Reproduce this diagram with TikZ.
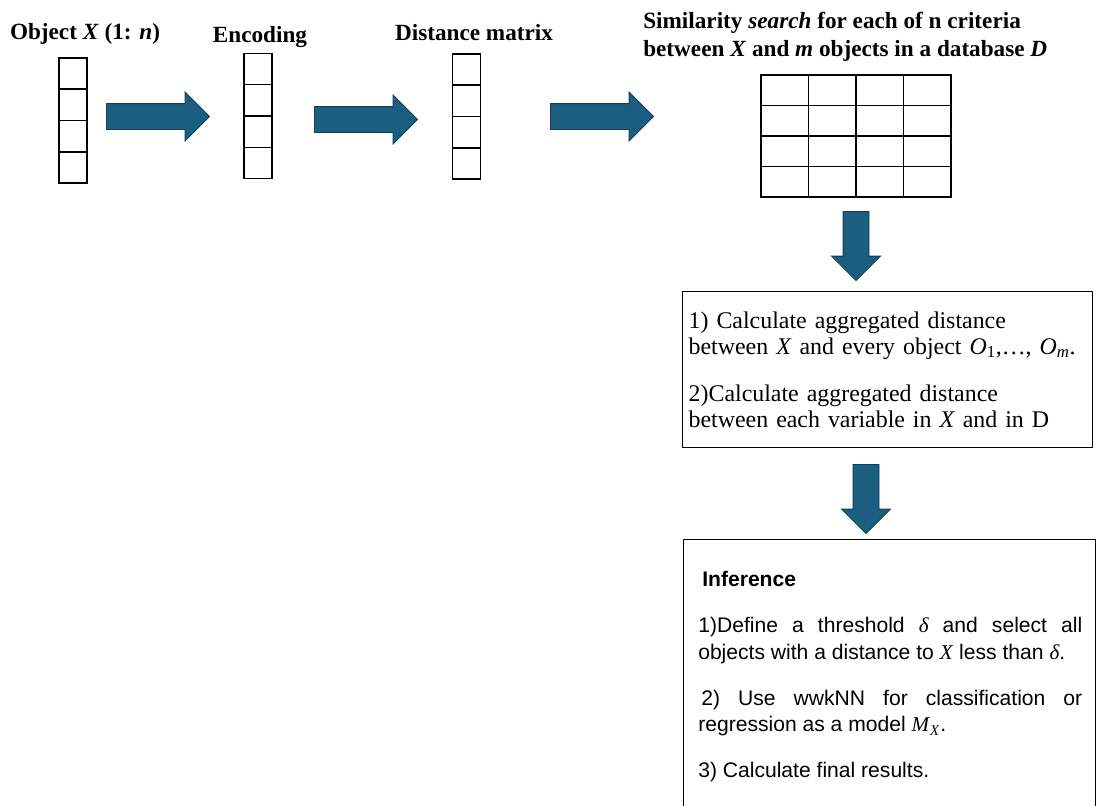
\documentclass[tikz,border=0pt]{standalone}
\usepackage{amsmath,bm}
\usepackage{fontspec}
\setmainfont{Liberation Serif}
\setsansfont{Liberation Sans}
\usetikzlibrary{shapes.arrows,calc,positioning}
\definecolor{arrowfill}{RGB}{27,94,128}
\definecolor{arrowline}{RGB}{18,62,88}
\newdimen\pxl
\pxl=0.025cm
\newcommand{\vx}[1]{\textit{#1}}
\newcommand{\sdelta}{{\rmfamily\itshape δ}}
\tikzset{
  heading/.style={font=\bfseries\fontsize{16.5}{19.8}\selectfont, inner sep=0pt},
  vecbox/.style={draw, line width=0.9pt, minimum width=28\pxl, minimum height=125\pxl, inner sep=0pt},
  fatarrow/.style={single arrow, draw=arrowline, fill=arrowfill, line width=0.7pt,
    inner sep=12.5\pxl, minimum width=48\pxl, single arrow head extend=11.5\pxl,
    single arrow tip angle=90, single arrow head indent=0pt, minimum height=103\pxl, anchor=tail},
  downarrow/.style={fatarrow, shape border rotate=270, minimum height=69\pxl},
  textbox/.style={draw, line width=0.9pt, anchor=north west}
}
\begin{document}
\begin{tikzpicture}[x=\pxl,y=-\pxl]
  \useasboundingbox (0,0) rectangle (1096,805);
  % headings
  \node[heading, anchor=base] (hobj) at (85,39) {Object \vx{X} (1: \vx{n})};
  \node[heading, anchor=base] (henc) at (260,42) {Encoding};
  \node[heading, anchor=base] (hdist) at (474,40) {Distance matrix};
  \node[heading, anchor=north west, align=left] (hsim) at (643,12)
    {Similarity \textit{search} for each of n criteria\\
     between \vx{X} and \vx{m} objects in a database \vx{D}};
  % vectors and grid
  \node[vecbox] (col1) at (73,120.5) {};
  \node[vecbox] (col2) at (258,116) {};
  \node[vecbox] (col3) at (466.5,116.5) {};
  \foreach \c in {col1,col2,col3}
    \foreach \k in {1,2,3}
      \draw[line width=0.9pt] ($(\c.north west)!\k/4!(\c.south west)$) -- ($(\c.north east)!\k/4!(\c.south east)$);
  \node[draw, line width=0.9pt, minimum width=190\pxl, minimum height=122\pxl, inner sep=0pt] (grid) at (856,136) {};
  \foreach \k in {1,2,3} {
    \draw[line width=0.9pt] ($(grid.north west)!\k/4!(grid.south west)$) -- ($(grid.north east)!\k/4!(grid.south east)$);
    \draw[line width=0.9pt] ($(grid.north west)!\k/4!(grid.north east)$) -- ($(grid.south west)!\k/4!(grid.south east)$);
  }
  % arrows
  \node[fatarrow] (a1) at (106,116.5) {};
  \node[fatarrow] (a2) at (314,119.5) {};
  \node[fatarrow] (a3) at (550,116.5) {};
  \node[downarrow] (a4) at (856,211) {};
  \node[downarrow] (a5) at (866,464) {};
  % boxes
  \node[textbox, minimum width=410\pxl, minimum height=156\pxl, text width=398\pxl,
    inner xsep=6\pxl, align=left, font=\fontsize{17}{18.6}\selectfont] (calc) at (682,291)
    {1) Calculate aggregated distance\\
     between \vx{X} and every object \vx{O}\textsubscript{1},\ldots, \vx{O}\textsubscript{\vx{m}}.\\[15pt]
     2)Calculate aggregated distance\\
     between each variable in \vx{X} and in D};
  \begin{scope}
    \clip (0,0) rectangle (1096,805);
    \node[textbox, minimum width=412\pxl, minimum height=300\pxl, inner sep=0pt] (infer) at (683,539) {};
    \node[anchor=north west, inner sep=0pt, text width=384\pxl, align=justify,
      font=\sffamily\fontsize{15}{19.1}\selectfont] (infertext) at (698,571)
      {\setlength{\parskip}{13.5pt}\hspace*{4\pxl}{\bfseries Inference}\par
       1)Define a threshold \sdelta{} and select all\linebreak
       objects with a distance to {\rmfamily\vx{X}} less than \sdelta.\par
       \hspace*{3\pxl}2) Use wwkNN for classification or\linebreak
       regression as a model {\rmfamily\vx{M}\textsubscript{\vx{X}}}.\par
       3) Calculate final results.\par};
  \end{scope}
\end{tikzpicture}
\end{document}
